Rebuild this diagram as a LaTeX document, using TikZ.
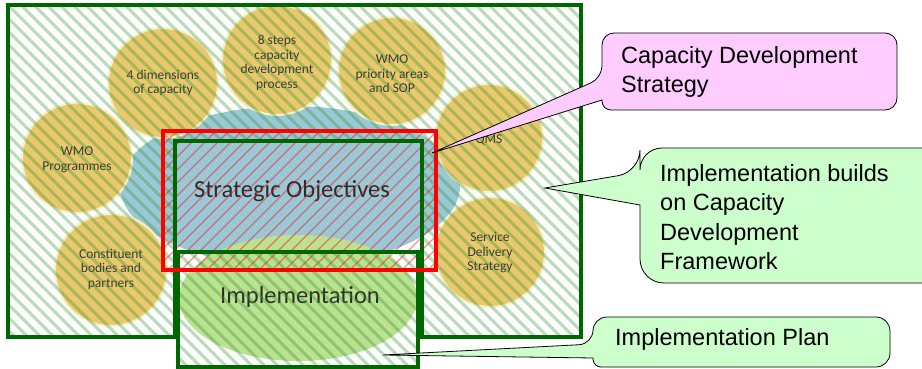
\documentclass[tikz,border=0pt]{standalone}
\usepackage{fontspec}
\setmainfont{Liberation Sans}
\newfontfamily\calfont{Carlito}
\definecolor{dkgreen}{RGB}{0,102,0}
\definecolor{circfill}{RGB}{234,200,110}
\definecolor{circedge}{RGB}{250,240,200}
\definecolor{blueell}{RGB}{155,200,214}
\definecolor{greenell}{RGB}{188,225,145}
\definecolor{hatchgreen}{RGB}{50,150,50}
\definecolor{calpink}{RGB}{255,204,255}
\definecolor{calgreen}{RGB}{204,255,204}
\definecolor{ctext}{RGB}{55,55,55}
\tikzset{
  yellowcirc/.style={fill=circfill, draw=circedge, line width=2pt},
  ctxt/.style={font=\calfont\fontsize{13.5}{14.5}\selectfont, text=ctext, align=center, inner sep=0pt},
  bigtxt/.style={font=\calfont\fontsize{24.5}{28}\selectfont, text=ctext!80!black, inner sep=0pt},
  hatchg/.style={draw=hatchgreen, opacity=0.34, line width=3pt},
  hatchr/.style={draw=red, opacity=0.45, line width=1.4pt},
  outl/.style={draw=dkgreen, line width=3.5pt},
  calltxt/.style={font=\fontsize{23.5}{29.5}\selectfont, align=left, anchor=west, inner sep=0pt},
  callbox/.style={draw=black, line width=0.8pt},
}
\begin{document}
\begin{tikzpicture}[x=1pt,y=-1pt]
\useasboundingbox (0,0) rectangle (922,369);
\fill[white] (0,0) rectangle (922,369);

% strategic objectives ellipse
\fill[blueell] (290,186) ellipse [x radius=170pt, y radius=80pt];

% circles
\fill[yellowcirc] (163,83) circle [radius=55pt];
\fill[yellowcirc] (277,60) circle [radius=55pt];
\fill[yellowcirc] (392,71) circle [radius=54pt];
\fill[yellowcirc] (77,158) circle [radius=55pt];
\fill[yellowcirc] (111,270) circle [radius=56pt];
\fill[yellowcirc] (489,138) circle [radius=54pt];
\fill[yellowcirc] (490,252) circle [radius=55pt];

% implementation ellipse
\fill[greenell] (298,298) ellipse [x radius=119pt, y radius=63pt];

% circle texts
\node[ctxt] (c4d) at (163,83) {4 dimensions\\of capacity};
\node[ctxt] (c8s) at (277,63) {8 steps\\capacity\\development\\process};
\node[ctxt] (cwp) at (392,74) {WMO\\priority areas\\and SOP};
\node[ctxt] (cprog) at (77,160) {WMO\\Programmes};
\node[ctxt] (ccons) at (111,269) {Constituent\\bodies and\\partners};
\node[ctxt] (cqms) at (489,140) {QMS};
\node[ctxt] (csds) at (490,253) {Service\\Delivery\\Strategy};
\node[bigtxt] (so) at (292,191) {Strategic Objectives};
\node[bigtxt] (impl) at (300,297) {Implementation};

% green hatch
\begin{scope}
\clip (8,5) -- (581,5) -- (581,337) -- (422,337) -- (422,141) -- (175,141) -- (175,337) -- (8,337) -- cycle
      (178,252) rectangle (418,367);
\foreach \i in {-400,-387,...,600} \draw[hatchg] (\i,0) -- ++(400,400);
\end{scope}
% red hatch
\begin{scope}
\clip (163,130) rectangle (437,270);
\foreach \i in {-300,-287,...,700} \draw[hatchr] (\i,400) -- ++(400,-400);
\end{scope}

% outlines
\draw[outl] (8,5) -- (581,5) -- (581,337) -- (422,337) -- (422,141) -- (175,141) -- (175,337) -- (8,337) -- cycle;
\draw[outl] (178,252) rectangle (418,367);
\draw[draw=red, line width=3.5pt] (163,131) rectangle (436,270);

% callouts
\coordinate (tip1) at (432,153);
\coordinate (tip2) at (545,188);
\coordinate (tip3) at (383,355);

\filldraw[callbox, fill=calpink] (750,110) [rounded corners=12pt] -- (897,110) -- (897,33) -- (602,33) -- (602,78) [sharp corners] -- (tip1) -- (602,100) -- (602,101) [rounded corners=9pt] -- (602,110) -- cycle;
\node[calltxt] (cds) at (621,72) {Capacity Development\\Strategy};

\filldraw[callbox, fill=calgreen] (800,283) [rounded corners=22pt] -- (945,283) -- (945,148) -- (640,148) -- (640,172) [sharp corners] -- (tip2) -- (640,205) -- (640,206) [rounded corners=24pt] -- (640,283) -- cycle;
\node[calltxt] (ibf) at (660,217) {Implementation builds\\on Capacity\\Development\\Framework};

\filldraw[callbox, fill=calgreen] (750,367) [rounded corners=14pt] -- (890,367) -- (890,317) -- (593,317) -- (593,344) [sharp corners] -- (tip3) -- (593,358) -- (593,359) [rounded corners=8pt] -- (593,367) -- cycle;
\node[calltxt] (ipl) at (615,339) {Implementation Plan};
\end{tikzpicture}
\end{document}
